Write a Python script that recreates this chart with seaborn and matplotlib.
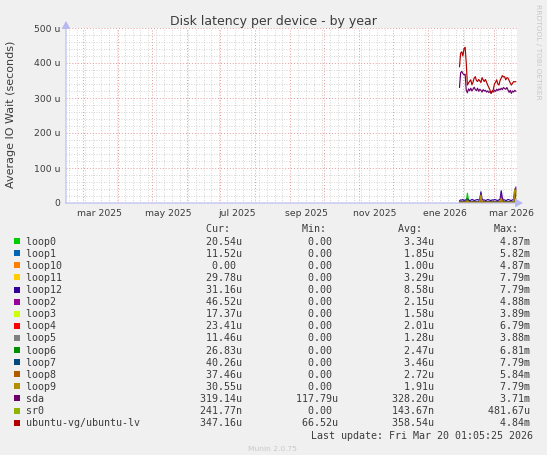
import matplotlib
matplotlib.use('Agg')
import matplotlib.pyplot as plt
import matplotlib.dates as mdates
import matplotlib.transforms as mtransforms
from matplotlib.patches import Rectangle
from matplotlib.ticker import MultipleLocator, NullFormatter
import pandas as pd
import seaborn as sns

sns.set_style('white')
plt.rcParams['font.family'] = ['DejaVu Sans']

W, H = 547, 455
BG = '#f0f0f0'
TXT = '#3c3c3c'
AXIS = '#b8b8f0'

# ---- data (IO wait in microseconds, one point per day) ----
start_day = '2026-01-29'
end_day = '2026-03-20'

devices = ['loop0', 'loop1', 'loop10', 'loop11', 'loop12', 'loop2', 'loop3', 'loop4',
           'loop5', 'loop6', 'loop7', 'loop8', 'loop9', 'sda', 'sr0', 'ubuntu-vg/ubuntu-lv']
colors = ['#00cc00', '#0066b3', '#ff8000', '#ffcc00', '#330099', '#990099', '#ccff00', '#ff0000',
          '#808080', '#008f00', '#00487d', '#b35a00', '#b38f00', '#6b006b', '#8fb300', '#b30000']

cur_vals = ['20.54u', '11.52u', '0.00 ', '29.78u', '31.16u', '46.52u', '17.37u', '23.41u',
            '11.46u', '26.83u', '40.26u', '37.46u', '30.55u', '319.14u', '241.77n', '347.16u']
min_vals = ['0.00 '] * 13 + ['117.79u', '0.00 ', '66.52u']
avg_vals = ['3.34u', '1.85u', '1.00u', '3.29u', '8.58u', '2.15u', '1.58u', '2.01u',
            '1.28u', '2.47u', '3.46u', '2.72u', '1.91u', '328.20u', '143.67n', '358.54u']
max_vals = ['4.87m', '5.82m', '4.87m', '7.79m', '7.79m', '4.88m', '3.89m', '6.79m',
            '3.88m', '6.81m', '7.79m', '5.84m', '7.79m', '3.71m', '481.67u', '4.84m']

loop0 = [3, 2, 4, 3, 2, 5, 3, 28, 6, 2,
         3, 4, 2, 3, 2, 4, 3, 2, 3, 9,
         3, 2, 4, 3, 2, 3, 2, 4, 3, 2,
         3, 2, 4, 3, 2, 3, 4, 18, 5, 3,
         2, 3, 4, 2, 3, 2, 3, 4, 3, 12,
         21]
loop1 = [2, 1, 2, 2, 1, 3, 2, 4, 2, 1,
         2, 2, 1, 2, 3, 2, 1, 2, 2, 6,
         2, 1, 2, 2, 1, 2, 3, 2, 1, 2,
         2, 1, 2, 3, 2, 1, 2, 7, 2, 2,
         1, 2, 2, 3, 1, 2, 2, 1, 2, 8,
         12]
loop10 = [1, 0, 1, 1, 0, 1, 1, 3, 1, 0,
          1, 1, 0, 1, 1, 0, 1, 1, 0, 4,
          1, 0, 1, 1, 0, 1, 1, 0, 1, 1,
          0, 1, 1, 0, 1, 1, 0, 5, 1, 0,
          1, 1, 0, 1, 1, 0, 1, 1, 0, 6,
          0]
loop11 = [3, 2, 4, 3, 2, 3, 4, 8, 3, 2,
          3, 4, 2, 3, 3, 2, 4, 3, 2, 12,
          3, 2, 3, 4, 2, 3, 3, 2, 4, 3,
          2, 3, 4, 3, 2, 3, 3, 10, 4, 3,
          2, 3, 4, 3, 2, 3, 4, 3, 3, 18,
          30]
loop12 = [6, 9, 8, 10, 7, 9, 8, 12, 9, 7,
          8, 10, 9, 7, 8, 9, 10, 8, 11, 32,
          12, 8, 9, 7, 8, 10, 9, 8, 7, 9,
          8, 10, 9, 8, 7, 9, 11, 35, 14, 8,
          9, 7, 8, 10, 9, 8, 7, 9, 10, 40,
          31]
loop2 = [2, 1, 2, 3, 2, 1, 2, 5, 2, 1,
         2, 3, 2, 1, 2, 2, 3, 2, 2, 15,
         3, 2, 1, 2, 2, 3, 2, 1, 2, 2,
         3, 2, 2, 1, 2, 3, 2, 22, 4, 2,
         1, 2, 3, 2, 2, 1, 2, 3, 2, 25,
         46]
loop3 = [1, 2, 1, 2, 1, 2, 1, 4, 2, 1,
         2, 1, 2, 1, 2, 1, 2, 1, 2, 5,
         1, 2, 1, 2, 1, 2, 1, 2, 1, 2,
         1, 2, 1, 2, 1, 2, 1, 6, 2, 1,
         2, 1, 2, 1, 2, 1, 2, 1, 2, 9,
         17]
loop4 = [2, 1, 2, 2, 1, 2, 2, 5, 2, 1,
         2, 2, 1, 2, 2, 1, 2, 2, 1, 7,
         2, 1, 2, 2, 1, 2, 2, 1, 2, 2,
         1, 2, 2, 1, 2, 2, 1, 6, 2, 1,
         2, 2, 1, 2, 2, 1, 2, 2, 1, 11,
         23]
loop5 = [1, 1, 2, 1, 1, 2, 1, 4, 1, 1,
         2, 1, 1, 1, 2, 1, 1, 2, 1, 4,
         1, 1, 2, 1, 1, 1, 2, 1, 1, 1,
         2, 1, 1, 1, 2, 1, 1, 5, 1, 1,
         1, 2, 1, 1, 1, 2, 1, 1, 1, 7,
         11]
loop6 = [2, 3, 2, 3, 2, 3, 2, 12, 3, 2,
         3, 2, 3, 2, 3, 2, 3, 2, 3, 8,
         2, 3, 2, 3, 2, 3, 2, 3, 2, 3,
         2, 3, 2, 3, 2, 3, 2, 10, 3, 2,
         3, 2, 3, 2, 3, 2, 3, 2, 3, 14,
         27]
loop7 = [3, 4, 3, 4, 3, 4, 3, 9, 4, 3,
         4, 3, 4, 3, 4, 3, 4, 3, 4, 11,
         3, 4, 3, 4, 3, 4, 3, 4, 3, 4,
         3, 4, 3, 4, 3, 4, 3, 12, 4, 3,
         4, 3, 4, 3, 4, 3, 4, 3, 4, 22,
         40]
loop8 = [2, 3, 3, 2, 3, 3, 2, 8, 3, 2,
         3, 3, 2, 3, 3, 2, 3, 3, 2, 10,
         3, 2, 3, 3, 2, 3, 3, 2, 3, 3,
         2, 3, 3, 2, 3, 3, 2, 11, 3, 2,
         3, 3, 2, 3, 3, 2, 3, 3, 2, 20,
         37]
loop9 = [1, 2, 1, 2, 1, 2, 1, 6, 2, 1,
         2, 1, 2, 1, 2, 1, 2, 1, 3, 23,
         3, 1, 2, 1, 2, 1, 2, 1, 2, 1,
         2, 1, 2, 1, 2, 1, 3, 14, 3, 1,
         2, 1, 2, 1, 2, 1, 2, 1, 3, 39,
         31]
sda = [330, 372, 376, 370, 366, 368, 322, 315, 326, 321,
       328, 320, 325, 331, 324, 321, 328, 319, 325, 322,
       317, 324, 320, 322, 317, 320, 316, 318, 314, 320,
       317, 322, 319, 325, 321, 326, 323, 328, 324, 330,
       327, 325, 330, 323, 316, 322, 313, 320, 317, 322,
       319]
sr0 = [0.0, 0.0, 0.0, 0.0, 0.0, 0.0, 0.0, 0.0, 0.0, 0.0,
       0.0, 0.0, 0.0, 0.0, 0.0, 0.0, 0.0, 0.0, 0.0, 0.0,
       0.0, 0.0, 0.0, 0.0, 0.0, 0.0, 0.0, 0.0, 0.0, 0.0,
       0.0, 0.0, 0.0, 0.0, 0.0, 0.0, 0.0, 0.0, 0.0, 0.0,
       0.0, 0.0, 0.0, 0.0, 0.0, 0.0, 0.0, 0.0, 0.0, 0.0,
       0.0]
ubuntu_lv = [389, 428, 432, 420, 441, 445, 400, 337, 343, 348,
             352, 338, 345, 357, 361, 350, 347, 353, 349, 344,
             358, 352, 347, 353, 345, 337, 330, 323, 313, 318,
             324, 340, 345, 352, 340, 337, 350, 357, 364, 360,
             361, 352, 358, 357, 350, 343, 337, 342, 347, 346,
             347]

month_label_days = ['2025-03-16', '2025-05-16', '2025-07-16', '2025-09-15',
                    '2025-11-15', '2026-01-16', '2026-03-16']
month_labels = ['mar 2025', 'may 2025', 'jul 2025', 'sep 2025',
                'nov 2025', 'ene 2026', 'mar 2026']
y_ticks = [0, 100, 200, 300, 400, 500]
y_tick_labels = ['0', '100 u', '200 u', '300 u', '400 u', '500 u']

# ---- build frame ----
dates = pd.date_range(start_day, end_day, freq='D')
all_series = [loop0, loop1, loop10, loop11, loop12, loop2, loop3, loop4,
              loop5, loop6, loop7, loop8, loop9, sda, sr0, ubuntu_lv]
wide = pd.DataFrame({'date': dates})
for name, vals in zip(devices, all_series):
    wide[name] = vals
df = wide.melt(id_vars='date', var_name='device', value_name='wait')
palette = dict(zip(devices, colors))


def fx(px):
    return px / W


def fy(py):
    return 1 - py / H


fig = plt.figure(figsize=(W / 100, H / 100), dpi=100, facecolor=BG)
ax = fig.add_axes([fx(66), fy(203), (517 - 66) / W, (203 - 28) / H])
ax.set_facecolor('white')

sns.lineplot(data=df, x='date', y='wait', hue='device', hue_order=devices,
             palette=palette, linewidth=0.85, legend=False, estimator=None, ax=ax)

ax.set_xlim(pd.Timestamp('2025-02-14'), pd.Timestamp('2026-03-21'))
ax.set_ylim(0, 500)
ax.set_xlabel('')
ax.set_ylabel('')
for s in ax.spines.values():
    s.set_visible(False)

# grids
ax.xaxis.set_major_locator(mdates.MonthLocator())
ax.xaxis.set_major_formatter(NullFormatter())
ax.xaxis.set_minor_locator(mdates.WeekdayLocator(byweekday=mdates.MO))
ax.yaxis.set_minor_locator(MultipleLocator(20))
ax.set_yticks(y_ticks, y_tick_labels)
ax.tick_params(axis='both', which='both', length=0)
ax.tick_params(axis='y', labelsize=6.7, labelcolor=TXT, pad=4.3)
ax.grid(which='minor', color='#c6c6c6', linestyle=(0, (1, 2)), linewidth=0.6)
ax.grid(which='major', color='#e49a9a', linestyle=(0, (1, 2)), linewidth=0.7)
ax.set_axisbelow(True)

# month labels under the axis
trans = mtransforms.blended_transform_factory(ax.transData, fig.transFigure)
for d, lab in zip(month_label_days, month_labels):
    ax.text(mdates.date2num(pd.Timestamp(d)), fy(215.5), lab, transform=trans,
            ha='center', va='baseline', fontsize=6.7, color=TXT)

# axis arrows
arrow = dict(arrowstyle='-|>,head_length=0.45,head_width=0.25', color=AXIS, lw=0.8,
             shrinkA=0, shrinkB=0)
ax.annotate('', xy=(66, H - 21), xytext=(66, H - 203), xycoords='figure pixels',
            textcoords='figure pixels', arrowprops=arrow)
ax.annotate('', xy=(523, H - 203), xytext=(66, H - 203), xycoords='figure pixels',
            textcoords='figure pixels', arrowprops=arrow)

# titles
fig.text(fx(273.8), fy(25), 'Disk latency per device - by year', ha='center',
         va='baseline', fontsize=9, color=TXT)
fig.text(fx(11), fy(114.5), 'Average IO Wait (seconds)', rotation=90,
         ha='center', va='center', fontsize=8, color=TXT)
fig.text(fx(538), fy(4), 'RRDTOOL / TOBI OETIKER', rotation=270, ha='center',
         va='top', fontsize=5.4, color='#c8c8c8')

# legend table
mono = 'DejaVu Sans Mono'
x0 = 25.5
base = 232.5
step = 12.1
header = f"{'Cur:':>34}{'Min:':>16}{'Avg:':>16}{'Max:':>16}"
fig.text(fx(x0), fy(base), header, ha='left', va='baseline', fontsize=7.2,
         family=mono, color=TXT)
for i, name in enumerate(devices):
    yb = base + step * (i + 1)
    row = f"{name:<20}{cur_vals[i]:>16}{min_vals[i]:>16}{avg_vals[i]:>16}{max_vals[i]:>16}"
    fig.text(fx(x0), fy(yb), row, ha='left', va='baseline', fontsize=7.2,
             family=mono, color=TXT)
    fig.add_artist(Rectangle((fx(14), fy(yb - 0.5)), 6 / W, 6 / H,
                             transform=fig.transFigure, color=colors[i], lw=0))

fig.text(fx(533), fy(439), 'Last update: Fri Mar 20 01:05:25 2026', ha='right',
         va='baseline', fontsize=7.2, family=mono, color=TXT)
fig.text(fx(272.8), fy(451), 'Munin 2.0.75', ha='center', va='baseline',
         fontsize=5.4, color='#c8c8c8')

fig.savefig('out.png', dpi=100, facecolor=BG)
